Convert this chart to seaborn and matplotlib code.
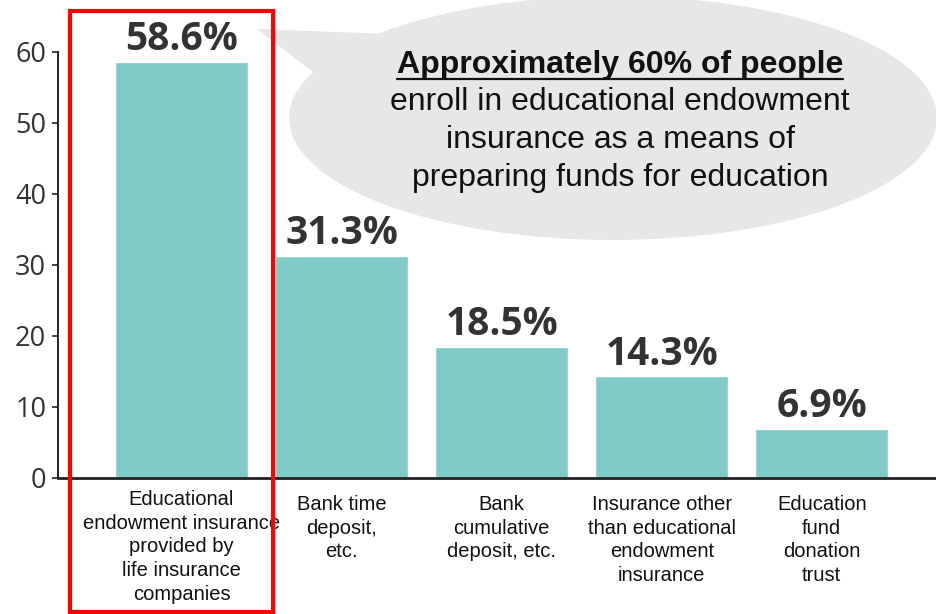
import matplotlib
matplotlib.use("Agg")
import matplotlib.pyplot as plt
import matplotlib.transforms as mtransforms
import seaborn as sns
from matplotlib.patches import Ellipse, Polygon, Rectangle
from matplotlib.lines import Line2D

categories = [
    "Educational\nendowment insurance\nprovided by\nlife insurance\ncompanies",
    "Bank time\ndeposit,\netc.",
    "Bank\ncumulative\ndeposit, etc.",
    "Insurance other\nthan educational\nendowment\ninsurance",
    "Education\nfund\ndonation\ntrust",
]
values = [58.6, 31.3, 18.5, 14.3, 6.9]
yticks = [0, 10, 20, 30, 40, 50, 60]
bubble_lines = [
    "Approximately 60% of people",
    "enroll in educational endowment",
    "insurance as a means of",
    "preparing funds for education",
]

sns.set_theme(style="white")
plt.rcParams["font.family"] = ["Liberation Sans", "DejaVu Sans"]

W, H = 937, 614
fig = plt.figure(figsize=(W / 100, H / 100), dpi=100)


def fx(px):
    return px / W


def fy(py):
    return 1 - py / H


ax = fig.add_axes([fx(58), fy(478), fx(937) - fx(58), fy(0) - fy(478)])
ax.set_facecolor("none")

sns.barplot(x=list(range(len(values))), y=values, color="#80CBC7",
            saturation=1, width=0.83, ax=ax, zorder=2)

ax.set_xlim(-0.772, 4.72)
ax.set_ylim(0, 67.3)
ax.set_yticks(yticks)
ax.set_yticklabels([str(t) for t in yticks], fontfamily="Open Sans",
                   fontsize=19.5, color="#333333")
ax.set_xticks(range(len(values)))
ax.set_xticklabels([""] * len(values))
ax.tick_params(axis="x", length=0)
ax.tick_params(axis="y", length=4.5, width=1.2, color="#222222", pad=4, left=True)
ax.set_xlabel("")
ax.set_ylabel("")
for side in ["top", "right"]:
    ax.spines[side].set_visible(False)
for side, lw in [("left", 1.4), ("bottom", 2.0)]:
    sp = ax.spines[side]
    sp.set_visible(True)
    sp.set_color("#222222")
    sp.set_linewidth(lw)
    sp.set_zorder(5)
ax.spines["left"].set_bounds(0, yticks[-1])

# category labels below the axis
trans = mtransforms.blended_transform_factory(ax.transData, fig.transFigure)
for i, cat in enumerate(categories):
    top = 490 if i == 0 else 495
    ax.text(i, fy(top), cat, transform=trans, ha="center", va="top",
            fontsize=14.5, color="#111111", linespacing=1.31, clip_on=False)

for cont in ax.containers:
    ax.bar_label(cont, labels=[f"{v:.1f}%" for v in values], padding=2,
                 fontfamily="Open Sans", fontweight="bold", fontsize=28,
                 color="#333333")

# speech bubble
bubble_color = "#e7e7ea"
ell = Ellipse((fx(613), fy(118)), fx(648), 244 / H, transform=fig.transFigure,
              facecolor=bubble_color, edgecolor="none", zorder=1)
fig.patches.append(ell)
tail = Polygon([(fx(257), fy(29)), (fx(390), fy(34)), (fx(318), fy(76))],
               closed=True, transform=fig.transFigure, facecolor=bubble_color,
               edgecolor="none", zorder=1)
fig.patches.append(tail)

ys = [65, 102, 140, 178]
texts = []
for i, (line, y) in enumerate(zip(bubble_lines, ys)):
    t = fig.text(fx(620), fy(y), line, ha="center", va="center", fontsize=23,
                 fontweight="bold" if i == 0 else "normal", color="#111111",
                 zorder=3)
    texts.append(t)

fig.canvas.draw()
bb = texts[0].get_window_extent(renderer=fig.canvas.get_renderer())
uy = fy(79)
fig.lines.append(Line2D([bb.x0 / W, bb.x1 / W], [uy, uy], transform=fig.transFigure,
                        color="#111111", linewidth=1.6, zorder=3))

# red highlight box
rect = Rectangle((fx(70.5), fy(612)), fx(273) - fx(70.5), (612 - 10.5) / H,
                 transform=fig.transFigure, facecolor="none",
                 edgecolor="#ff0000", linewidth=3, zorder=10)
fig.patches.append(rect)

fig.savefig("out.png", dpi=100)
